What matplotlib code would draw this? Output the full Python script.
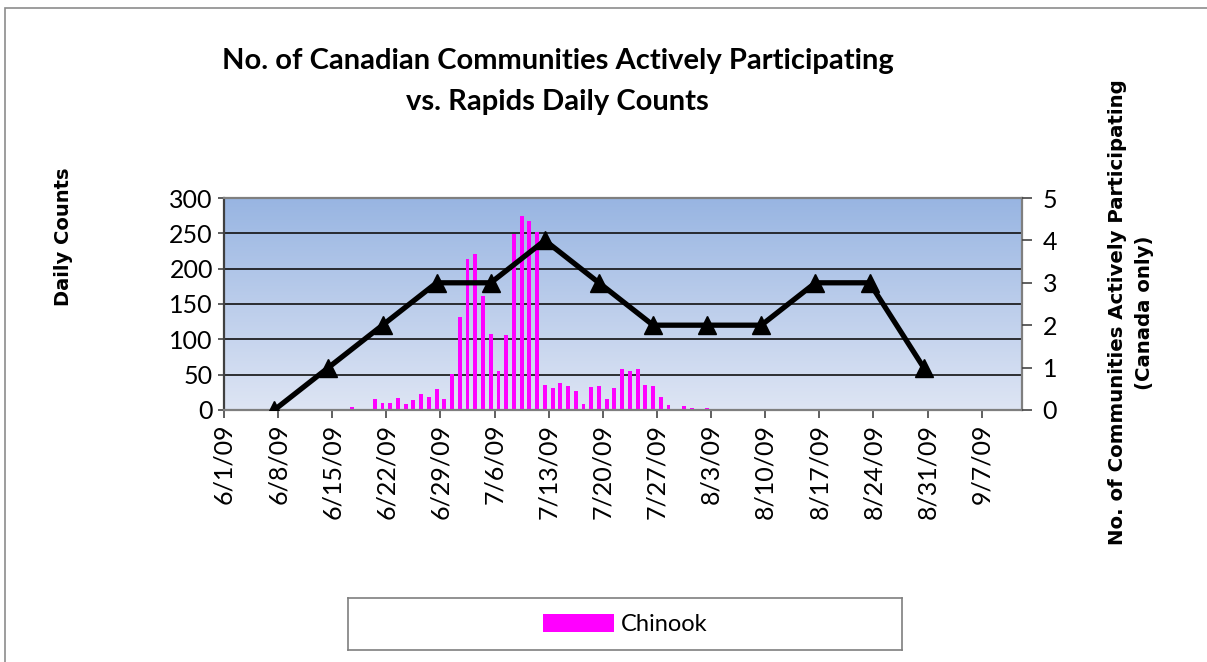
import numpy as np
import pandas as pd
import matplotlib
matplotlib.use('Agg')
from matplotlib import pyplot, dates as mdates, ticker
from matplotlib.patches import Rectangle, Patch

# Chinook daily counts at the rapids, one value per day from 6/17/09
count_start = '2009-06-17'
chinook = [4, 1, 1, 16, 10, 10, 17, 8, 14, 23, 19, 29, 16, 51,
           131, 214, 221, 162, 108, 55, 106, 249, 275, 268, 252,
           36, 31, 38, 34, 27, 9, 33, 34, 16, 31, 58, 55, 58, 36, 34,
           19, 7, 1, 6, 3, 1, 3, 0, 1, 2, 1, 0, 0, 1, 0, 0, 1]

# Communities actively participating, reported each Sunday from 6/7/09
weekly_start = '2009-06-07'
communities = [0, 1, 2, 3, 3, 4, 3, 2, 2, 2, 3, 3, 1]

title = 'No. of Canadian Communities Actively Participating\nvs. Rapids Daily Counts'
left_label = 'Daily Counts'
right_label = 'No. of Communities Actively Participating\n(Canada only)'

count_days = pd.date_range(count_start, periods=len(chinook), freq='D')
weekly_days = pd.date_range(weekly_start, periods=len(communities), freq='7D')
half_day = pd.Timedelta(hours=12)

calibri = ['Lato', 'DejaVu Sans']

fig = pyplot.figure(figsize=(12.07, 6.62), dpi=100)
fig.patches.append(Rectangle((0.004, -0.01), 1.2, 0.998, transform=fig.transFigure,
                             fill=False, edgecolor='#8c8c8c', linewidth=1.2))

ax = fig.add_axes([0.1856, 0.3807, 0.661, 0.3202])

# vertical blue gradient behind the plot area
grad = np.linspace(0, 1, 256).reshape(-1, 1)
top = np.array([152, 181, 226]) / 255.0
bottom = np.array([222, 229, 244]) / 255.0
img = top + (bottom - top) * grad[:, :, None]
ax.imshow(img, extent=[0, 1, 0, 1], transform=ax.transAxes, aspect='auto', zorder=0)

x0 = mdates.date2num(pd.Timestamp('2009-06-01'))
ax.set_xlim(x0, x0 + 103.2)
ax.set_ylim(0, 300)

for level in range(50, 300, 50):
    ax.axhline(level, color='#111111', linewidth=1.2, zorder=1)

ax.bar(count_days + half_day, chinook, width=0.5, color='#ff00ff', zorder=2)

ax.yaxis.set_major_locator(ticker.MultipleLocator(50))
ax.set_xticks(mdates.date2num(pd.date_range('2009-06-01', '2009-09-07', freq='7D')))
ax.xaxis.set_major_formatter(ticker.FuncFormatter(
    lambda v, pos: '{d.month}/{d.day}/{d:%y}'.format(d=mdates.num2date(v))))
for lbl in ax.get_xticklabels():
    lbl.set_rotation(90)
ax.tick_params(axis='x', direction='out', length=6, width=1.2, color='#444444',
               labelsize=18, pad=4)
ax.tick_params(axis='y', direction='out', length=4, width=1.2, color='#444444',
               labelsize=18, pad=4)
for lbl in ax.get_xticklabels() + ax.get_yticklabels():
    lbl.set_family(calibri)

for side in ['left', 'bottom', 'top', 'right']:
    ax.spines[side].set_color('#7f7f7f')
    ax.spines[side].set_linewidth(1.6)
ax.spines['left'].set_color('#404040')

ax2 = ax.twinx()
ax2.set_ylim(0, 5)
ax2.yaxis.set_major_locator(ticker.MultipleLocator(1))
ax2.plot(weekly_days + half_day, communities, color='black', linewidth=3.8,
         marker='^', markersize=13, zorder=5)
ax2.tick_params(axis='y', direction='out', length=7, width=1.2, color='#444444',
                labelsize=18, pad=8)
for lbl in ax2.get_yticklabels():
    lbl.set_family(calibri)
for side in ['left', 'bottom', 'top', 'right']:
    ax2.spines[side].set_visible(False)

fig.text(0.462, 0.928, title, ha='center', va='top', fontsize=21, fontweight='bold',
         family=calibri, linespacing=1.75)
fig.text(0.053, 0.643, left_label, rotation=90, ha='center', va='center',
         fontsize=14, fontweight='bold', family='DejaVu Sans')
fig.text(0.937, 0.528, right_label, rotation=90, ha='center', va='center',
         fontsize=14.2, fontweight='bold', family='DejaVu Sans', linespacing=1.5)

legend_ax = fig.add_axes([0.2885, 0.018, 0.459, 0.078])
legend_ax.set_xticks([])
legend_ax.set_yticks([])
for side in legend_ax.spines.values():
    side.set_color('#7f7f7f')
    side.set_linewidth(1.2)
legend_ax.legend(handles=[Patch(facecolor='#ff00ff', label='Chinook')], loc='center',
                 frameon=False, prop={'family': calibri, 'size': 17},
                 handlelength=3.0, handleheight=0.8, handletextpad=0.3)

pyplot.savefig('out.png', dpi=100)
